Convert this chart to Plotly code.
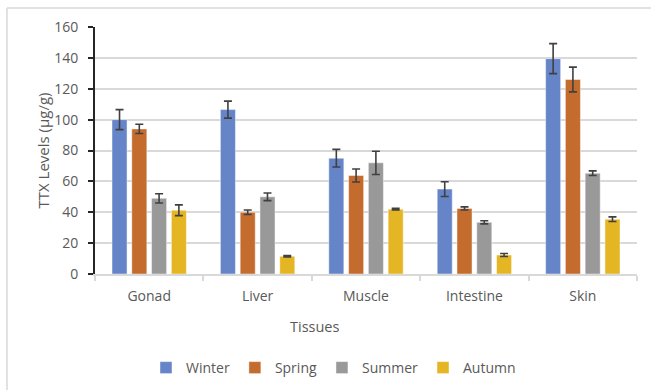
import plotly.graph_objects as go

# Tissue categories and seasonal TTX levels (µg/g) with error bars
tissues = ["Gonad", "Liver", "Muscle", "Intestine", "Skin"]
seasons = ["Winter", "Spring", "Summer", "Autumn"]

winter = [100.0, 106.5, 75.0, 55.0, 139.5]
winter_err = [6.5, 5.5, 5.7, 4.8, 9.7]
spring = [94.0, 40.0, 63.8, 42.5, 126.0]
spring_err = [3.0, 1.5, 4.2, 1.0, 8.0]
summer = [49.0, 50.0, 72.0, 33.5, 65.3]
summer_err = [3.0, 2.5, 7.5, 1.0, 1.5]
autumn = [41.3, 11.5, 42.0, 12.3, 35.5]
autumn_err = [3.5, 0.5, 0.5, 1.0, 1.5]

values = [winter, spring, summer, autumn]
errors = [winter_err, spring_err, summer_err, autumn_err]
colors = ["#6585C8", "#C46B2E", "#999999", "#E4B623"]

font_family = "Open Sans, Noto Sans, sans-serif"
text_color = "#595959"

fig = go.Figure()
for name, vals, errs, col in zip(seasons, values, errors, colors):
    fig.add_trace(go.Bar(
        name=name,
        x=tissues,
        y=vals,
        marker=dict(color=col, line=dict(color="rgba(255,255,255,0.45)", width=1)),
        error_y=dict(type="data", array=errs, visible=True,
                     color="#404040", thickness=1.6, width=4),
    ))

fig.update_layout(
    width=651,
    height=390,
    margin=dict(l=95, r=14, t=27, b=116, autoexpand=False),
    paper_bgcolor="white",
    plot_bgcolor="white",
    barmode="group",
    bargap=0.27,
    bargroupgap=0.24,
    font=dict(family=font_family, size=14, color=text_color),
    showlegend=True,
    legend=dict(
        orientation="h",
        x=0.44, xanchor="center",
        y=(274 - 368) / 247, yanchor="middle",
        font=dict(size=14, color=text_color),
        itemwidth=30,
        traceorder="normal",
    ),
    shapes=[
        # outer chart frame (top and left edges visible)
        dict(type="line", xref="paper", yref="paper",
             x0=-0.1624, x1=1.05, y0=1.0769, y1=1.0769,
             line=dict(color="#d9d9d9", width=1.5)),
        dict(type="line", xref="paper", yref="paper",
             x0=-0.1624, x1=-0.1624, y0=1.0769, y1=-0.5,
             line=dict(color="#d9d9d9", width=1.5)),
    ],
    annotations=[
        dict(text="Tissues", xref="paper", yref="paper",
             x=(315 - 95) / 542, y=(274 - 326) / 247,
             xanchor="center", yanchor="middle", showarrow=False,
             font=dict(size=14.5, color=text_color)),
        dict(text="TTX Levels (µg/g)", xref="paper", yref="paper",
             x=(42 - 95) / 542, y=0.5, textangle=-90,
             xanchor="center", yanchor="middle", showarrow=False,
             font=dict(size=15, color=text_color)),
    ],
)

fig.update_xaxes(
    showline=True, linecolor="#d9d9d9", linewidth=1.5,
    ticks="outside", tickson="boundaries", ticklen=5,
    tickcolor="#d9d9d9", tickwidth=1.5,
    ticklabelstandoff=8,
    showgrid=False,
    tickfont=dict(size=14, color=text_color),
)
fig.update_yaxes(
    range=[0, 160], dtick=20,
    showgrid=True, gridcolor="#d9d9d9", gridwidth=1.5,
    zeroline=False,
    showline=True, linecolor="#262626", linewidth=2,
    ticks="outside", ticklen=5, tickcolor="#262626", tickwidth=1.5,
    ticklabelstandoff=7,
    tickfont=dict(size=14, color=text_color),
)

fig.write_html("out.html")
